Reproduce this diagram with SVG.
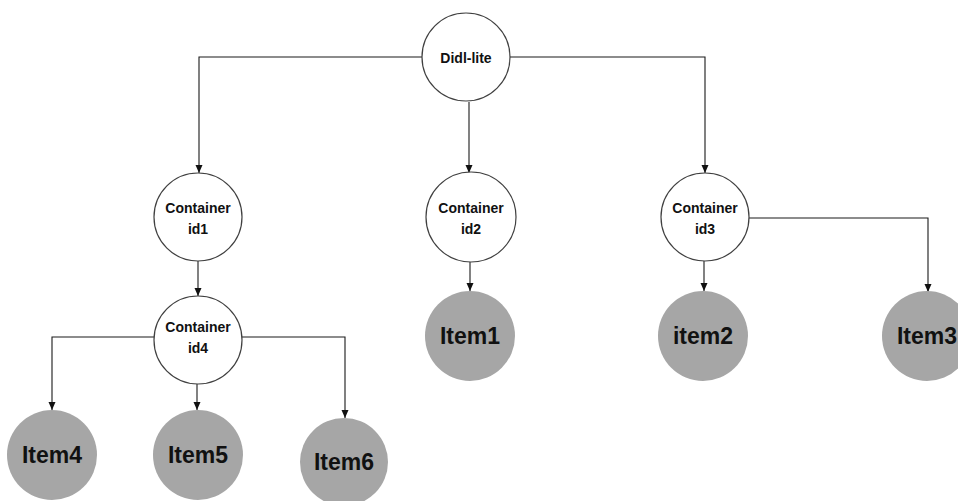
<svg xmlns="http://www.w3.org/2000/svg" width="958" height="501" viewBox="0 0 958 501">
  <style>
    .hub { fill: #ffffff; stroke: #404040; stroke-width: 1.2; }
    .leaf { fill: #a6a6a6; stroke: none; }
    .edge { fill: none; stroke: #1a1a1a; stroke-width: 1.1; marker-end: url(#arrow); }
    .small { font-family: "Liberation Sans", Arial, sans-serif; font-weight: bold; font-size: 14px; fill: #111; text-anchor: middle; }
    .big { font-family: "Liberation Sans", Arial, sans-serif; font-weight: bold; font-size: 23px; fill: #111; text-anchor: middle; }
  </style>
  <defs>
    <marker id="arrow" markerWidth="8" markerHeight="8" refX="8" refY="4" orient="auto" markerUnits="userSpaceOnUse">
      <path d="M0,0.5 L8,4 L0,7.5 Z" fill="#111"/>
    </marker>
  </defs>
  <rect width="958" height="501" fill="#ffffff"/>

  <g id="connectors">
    <path class="edge" d="M422,57 H199 V173"/>
    <path class="edge" d="M469,102 V173"/>
    <path class="edge" d="M510,57 H705 V173"/>
    <path class="edge" d="M198,261 V296"/>
    <path class="edge" d="M470,261 V291"/>
    <path class="edge" d="M704,261 V291"/>
    <path class="edge" d="M749,218 H928 V292"/>
    <path class="edge" d="M154,337 H52 V410"/>
    <path class="edge" d="M197,384 V410"/>
    <path class="edge" d="M242,337 H345 V418"/>
  </g>

  <g id="didl-lite">
    <circle class="hub" cx="466" cy="57" r="44"/>
    <text class="small" x="466" y="63" font-size="15">Didl-lite</text>
  </g>
  <g id="container-id1">
    <circle class="hub" cx="198" cy="217" r="44"/>
    <text class="small" x="198" y="213">Container</text>
    <text class="small" x="198" y="234">id1</text>
  </g>
  <g id="container-id2">
    <circle class="hub" cx="471" cy="217" r="45"/>
    <text class="small" x="471" y="213">Container</text>
    <text class="small" x="471" y="234">id2</text>
  </g>
  <g id="container-id3">
    <circle class="hub" cx="705" cy="217" r="44"/>
    <text class="small" x="705" y="213">Container</text>
    <text class="small" x="705" y="234">id3</text>
  </g>
  <g id="container-id4">
    <circle class="hub" cx="198" cy="340" r="44"/>
    <text class="small" x="198" y="332">Container</text>
    <text class="small" x="198" y="353">id4</text>
  </g>

  <g id="item1">
    <circle class="leaf" cx="470" cy="336" r="45"/>
    <text class="big" x="470" y="344">Item1</text>
  </g>
  <g id="item2">
    <circle class="leaf" cx="703" cy="336" r="45"/>
    <text class="big" x="703" y="344">item2</text>
  </g>
  <g id="item3">
    <circle class="leaf" cx="927" cy="336" r="45"/>
    <text class="big" x="927" y="344">Item3</text>
  </g>
  <g id="item4">
    <circle class="leaf" cx="52" cy="455" r="45"/>
    <text class="big" x="52" y="463">Item4</text>
  </g>
  <g id="item5">
    <circle class="leaf" cx="198" cy="455" r="45"/>
    <text class="big" x="198" y="463">Item5</text>
  </g>
  <g id="item6">
    <circle class="leaf" cx="344" cy="462" r="44"/>
    <text class="big" x="344" y="470">Item6</text>
  </g>
</svg>
